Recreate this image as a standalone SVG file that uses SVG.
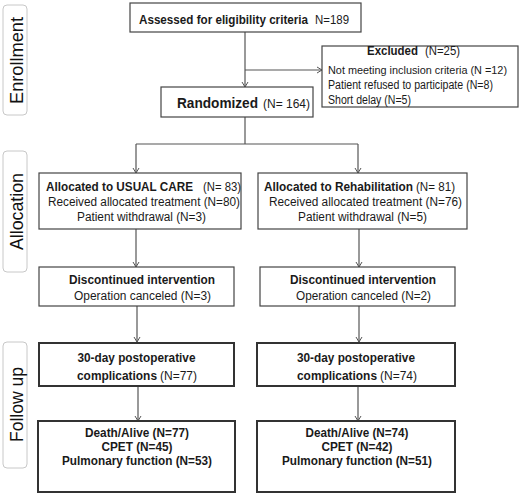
<svg xmlns="http://www.w3.org/2000/svg" width="520" height="496" viewBox="0 0 520 496">
<defs>
<style>
.box{fill:#fff;stroke:#444;stroke-width:1.2}
.boxb{fill:#fff;stroke:#333;stroke-width:2}
.lab{fill:#fff;stroke:#c8c8c8;stroke-width:1}
.ln{fill:none;stroke:#555;stroke-width:1.2}
text{font-family:"Liberation Sans",Arial,sans-serif;font-size:12px;fill:#1a1a1a}
.b{font-weight:bold}
.side{font-family:"Liberation Sans",Arial,sans-serif;font-size:19px;fill:#111}
.c{text-anchor:middle}
</style>
<marker id="ah" markerWidth="10" markerHeight="10" refX="8" refY="4" orient="auto" markerUnits="userSpaceOnUse">
<path d="M3,1 L8,4 L3,7" fill="none" stroke="#555" stroke-width="1"/>
</marker>
</defs>
<rect width="520" height="496" fill="#fff"/>

<g id="label-enrollment">
<rect class="lab" x="3" y="5" width="24" height="110" rx="4"/>
<text class="side c" transform="translate(22.5,60.5) rotate(-90)" textLength="87" lengthAdjust="spacingAndGlyphs">Enrollment</text>
</g>
<g id="label-allocation">
<rect class="lab" x="3" y="151" width="24" height="121" rx="4"/>
<text class="side c" transform="translate(22.5,211.5) rotate(-90)" textLength="77" lengthAdjust="spacingAndGlyphs">Allocation</text>
</g>
<g id="label-followup">
<rect class="lab" x="3" y="342" width="24" height="126" rx="4"/>
<text class="side c" transform="translate(22.5,404.5) rotate(-90)" textLength="75" lengthAdjust="spacingAndGlyphs">Follow up</text>
</g>

<g id="connectors">
<path class="ln" d="M245,32 V87" marker-end="url(#ah)"/>
<path class="ln" d="M245,70 H322" marker-end="url(#ah)"/>
<path class="ln" d="M245,117 V144"/>
<path class="ln" d="M136,144 H358"/>
<path class="ln" d="M136,144 V173" marker-end="url(#ah)"/>
<path class="ln" d="M358,144 V173" marker-end="url(#ah)"/>
<path class="ln" d="M136,229 V267" marker-end="url(#ah)"/>
<path class="ln" d="M359,229 V267" marker-end="url(#ah)"/>
<path class="ln" d="M137,306 V342" marker-end="url(#ah)"/>
<path class="ln" d="M359,306 V342" marker-end="url(#ah)"/>
<path class="ln" d="M138,386 V421" marker-end="url(#ah)"/>
<path class="ln" d="M358,386 V421" marker-end="url(#ah)"/>
</g>

<g id="assessed">
<rect class="box" x="130" y="3" width="231" height="29"/>
<text x="139" y="23.5" class="b" textLength="169" lengthAdjust="spacingAndGlyphs">Assessed for eligibility criteria</text>
<text x="315" y="23.5" textLength="34" lengthAdjust="spacingAndGlyphs">N=189</text>
</g>

<g id="excluded">
<rect class="box" x="322" y="46" width="196" height="61"/>
<text x="367" y="54.5" class="b" textLength="51" lengthAdjust="spacingAndGlyphs">Excluded</text>
<text x="425" y="54.5" textLength="35" lengthAdjust="spacingAndGlyphs">(N=25)</text>
<text x="328" y="73.5" style="font-size:10.6px" textLength="179" lengthAdjust="spacingAndGlyphs">Not meeting inclusion criteria  (N =12)</text>
<text x="328" y="88.5" textLength="165" lengthAdjust="spacingAndGlyphs">Patient refused to participate (N=8)</text>
<text x="328" y="104" textLength="83" lengthAdjust="spacingAndGlyphs">Short delay (N=5)</text>
</g>

<g id="randomized">
<rect class="box" x="161" y="87" width="152" height="30"/>
<text x="177" y="107.5" class="b" style="font-size:14px" textLength="81" lengthAdjust="spacingAndGlyphs">Randomized</text>
<text x="263" y="107.5" textLength="47" lengthAdjust="spacingAndGlyphs">(N= 164)</text>
</g>

<g id="alloc-usual">
<rect class="box" x="39" y="173" width="202" height="56"/>
<text x="46" y="191" class="b" textLength="147" lengthAdjust="spacingAndGlyphs">Allocated to USUAL CARE</text>
<text x="203" y="191" textLength="38" lengthAdjust="spacingAndGlyphs">(N= 83)</text>
<text x="48" y="205.5" textLength="192" lengthAdjust="spacingAndGlyphs">Received allocated treatment (N=80)</text>
<text x="77" y="221" textLength="129" lengthAdjust="spacingAndGlyphs">Patient withdrawal (N=3)</text>
</g>

<g id="alloc-rehab">
<rect class="box" x="258" y="173" width="209" height="56"/>
<text x="264" y="191" class="b" textLength="149" lengthAdjust="spacingAndGlyphs">Allocated to Rehabilitation</text>
<text x="416" y="191" textLength="39" lengthAdjust="spacingAndGlyphs">(N= 81)</text>
<text x="269" y="205.5" textLength="193" lengthAdjust="spacingAndGlyphs">Received allocated treatment (N=76)</text>
<text x="298" y="221" textLength="129" lengthAdjust="spacingAndGlyphs">Patient withdrawal (N=5)</text>
</g>

<g id="disc-usual">
<rect class="box" x="39" y="267" width="195" height="39"/>
<text x="142" y="283.5" class="b c" textLength="146" lengthAdjust="spacingAndGlyphs">Discontinued intervention</text>
<text x="142.5" y="300.3" class="c" textLength="137" lengthAdjust="spacingAndGlyphs">Operation canceled (N=3)</text>
</g>

<g id="disc-rehab">
<rect class="box" x="260" y="267" width="195" height="39"/>
<text x="363" y="283.5" class="b c" textLength="146" lengthAdjust="spacingAndGlyphs">Discontinued intervention</text>
<text x="363.5" y="300.3" class="c" textLength="135" lengthAdjust="spacingAndGlyphs">Operation canceled (N=2)</text>
</g>

<g id="comp-usual">
<rect class="boxb" x="39" y="343" width="195" height="43"/>
<text x="136.5" y="362" class="b c" textLength="118" lengthAdjust="spacingAndGlyphs">30-day postoperative</text>
<text x="77" y="380.3" class="b" textLength="80" lengthAdjust="spacingAndGlyphs">complications</text>
<text x="160" y="380.3" textLength="37" lengthAdjust="spacingAndGlyphs">(N=77)</text>
</g>

<g id="comp-rehab">
<rect class="boxb" x="257" y="343" width="198" height="43"/>
<text x="356" y="362" class="b c" textLength="118" lengthAdjust="spacingAndGlyphs">30-day postoperative</text>
<text x="297" y="380.3" class="b" textLength="80" lengthAdjust="spacingAndGlyphs">complications</text>
<text x="380" y="380.3" textLength="37" lengthAdjust="spacingAndGlyphs">(N=74)</text>
</g>

<g id="outcome-usual">
<rect class="boxb" x="38" y="421" width="197" height="71"/>
<text x="137" y="437" class="b c" textLength="104" lengthAdjust="spacingAndGlyphs">Death/Alive (N=77)</text>
<text x="137" y="451" class="b c" textLength="71" lengthAdjust="spacingAndGlyphs">CPET (N=45)</text>
<text x="137" y="465" class="b c" textLength="150" lengthAdjust="spacingAndGlyphs">Pulmonary function (N=53)</text>
</g>

<g id="outcome-rehab">
<rect class="boxb" x="257" y="421" width="198" height="71"/>
<text x="357" y="437" class="b c" textLength="103" lengthAdjust="spacingAndGlyphs">Death/Alive (N=74)</text>
<text x="357" y="451" class="b c" textLength="71" lengthAdjust="spacingAndGlyphs">CPET (N=42)</text>
<text x="357" y="465" class="b c" textLength="150" lengthAdjust="spacingAndGlyphs">Pulmonary function (N=51)</text>
</g>
</svg>
